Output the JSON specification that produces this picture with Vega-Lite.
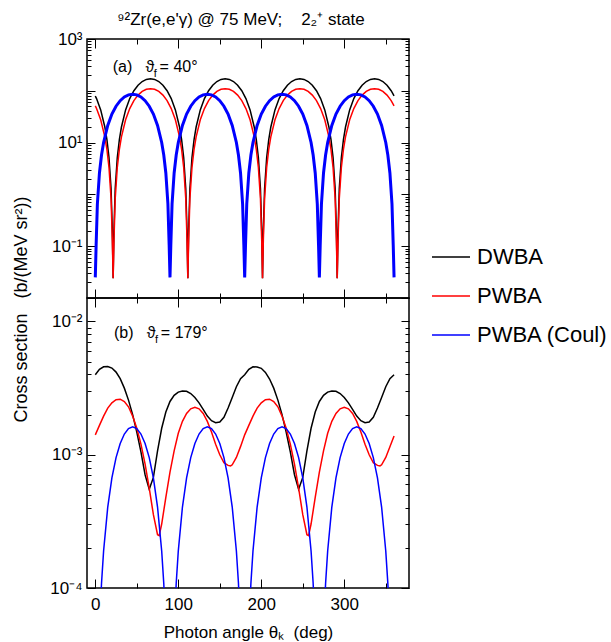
{
  "$schema": "https://vega.github.io/schema/vega-lite/v6.json",
  "padding": {"left": 11, "top": 10, "right": 0, "bottom": 0},
  "bounds": "flush",
  "spacing": 0,
  "config": {
    "font": "Liberation Sans",
    "view": {"stroke": "black", "strokeWidth": 1.5},
    "axis": {"domain": false, "grid": false, "tickColor": "black", "tickWidth": 1, "labelColor": "black", "labelFont": "Liberation Sans", "labelFontSize": 17, "titleFont": "Liberation Sans", "titleFontWeight": "normal", "titleColor": "black", "labelOverlap": false, "labelFlush": false, "labelBound": false},
    "title": {"font": "Liberation Sans", "fontWeight": "normal", "color": "black"}
  },
  "datasets": {
    "a": [
      {"x":0,"DWBA":79.5,"PWBA":51.2},{"x":1.5,"DWBA":70.65,"PWBA":45.45},{"x":6.5,"DWBA":42.75,"PWBA":27.5},{"x":11.5,"DWBA":20.0,"PWBA":12.87},{"x":14,"DWBA":11.45,"PWBA":7.37},{"x":16.5,"DWBA":5.16,"PWBA":3.32},{"x":19,"DWBA":1.30,"PWBA":0.836},{"x":20.5,"DWBA":0.208,"PWBA":0.134},{"x":21.5,"DWBA":0.024,"PWBA":0.024},{"x":22.5,"DWBA":0.208,"PWBA":0.134},{"x":24,"DWBA":1.30,"PWBA":0.836},{"x":26.5,"DWBA":5.16,"PWBA":3.32},{"x":29,"DWBA":11.45,"PWBA":7.37},{"x":31.5,"DWBA":20.0,"PWBA":12.87},{"x":36.5,"DWBA":42.75,"PWBA":27.5},{"x":41.5,"DWBA":70.65,"PWBA":45.45},{"x":46.5,"DWBA":100.3,"PWBA":64.55},{"x":51.5,"DWBA":128.3,"PWBA":82.5},{"x":56.5,"DWBA":151.0,"PWBA":97.13},{"x":61.5,"DWBA":165.8,"PWBA":106.7},{"x":66.5,"DWBA":171,"PWBA":110},{"x":71.5,"DWBA":165.8,"PWBA":106.7},{"x":76.5,"DWBA":151.0,"PWBA":97.13},{"x":81.5,"DWBA":128.3,"PWBA":82.5},{"x":86.5,"DWBA":100.3,"PWBA":64.55},
      {"x":91.5,"DWBA":70.65,"PWBA":45.45},{"x":96.5,"DWBA":42.75,"PWBA":27.5},{"x":101.5,"DWBA":20.0,"PWBA":12.87},{"x":104,"DWBA":11.45,"PWBA":7.37},{"x":106.5,"DWBA":5.16,"PWBA":3.32},{"x":109,"DWBA":1.30,"PWBA":0.836},{"x":110.5,"DWBA":0.208,"PWBA":0.134},{"x":111.5,"DWBA":0.024,"PWBA":0.024},{"x":112.5,"DWBA":0.208,"PWBA":0.134},{"x":114,"DWBA":1.30,"PWBA":0.836},{"x":116.5,"DWBA":5.16,"PWBA":3.32},{"x":119,"DWBA":11.45,"PWBA":7.37},{"x":121.5,"DWBA":20.0,"PWBA":12.87},{"x":126.5,"DWBA":42.75,"PWBA":27.5},{"x":131.5,"DWBA":70.65,"PWBA":45.45},{"x":136.5,"DWBA":100.3,"PWBA":64.55},{"x":141.5,"DWBA":128.3,"PWBA":82.5},{"x":146.5,"DWBA":151.0,"PWBA":97.13},{"x":151.5,"DWBA":165.8,"PWBA":106.7},{"x":156.5,"DWBA":171,"PWBA":110},{"x":161.5,"DWBA":165.8,"PWBA":106.7},{"x":166.5,"DWBA":151.0,"PWBA":97.13},{"x":171.5,"DWBA":128.3,"PWBA":82.5},{"x":176.5,"DWBA":100.3,"PWBA":64.55},
      {"x":181.5,"DWBA":70.65,"PWBA":45.45},{"x":186.5,"DWBA":42.75,"PWBA":27.5},{"x":191.5,"DWBA":20.0,"PWBA":12.87},{"x":194,"DWBA":11.45,"PWBA":7.37},{"x":196.5,"DWBA":5.16,"PWBA":3.32},{"x":199,"DWBA":1.30,"PWBA":0.836},{"x":200.5,"DWBA":0.208,"PWBA":0.134},{"x":201.5,"DWBA":0.024,"PWBA":0.024},{"x":202.5,"DWBA":0.208,"PWBA":0.134},{"x":204,"DWBA":1.30,"PWBA":0.836},{"x":206.5,"DWBA":5.16,"PWBA":3.32},{"x":209,"DWBA":11.45,"PWBA":7.37},{"x":211.5,"DWBA":20.0,"PWBA":12.87},{"x":216.5,"DWBA":42.75,"PWBA":27.5},{"x":221.5,"DWBA":70.65,"PWBA":45.45},{"x":226.5,"DWBA":100.3,"PWBA":64.55},{"x":231.5,"DWBA":128.3,"PWBA":82.5},{"x":236.5,"DWBA":151.0,"PWBA":97.13},{"x":241.5,"DWBA":165.8,"PWBA":106.7},{"x":246.5,"DWBA":171,"PWBA":110},{"x":251.5,"DWBA":165.8,"PWBA":106.7},{"x":256.5,"DWBA":151.0,"PWBA":97.13},{"x":261.5,"DWBA":128.3,"PWBA":82.5},{"x":266.5,"DWBA":100.3,"PWBA":64.55},
      {"x":271.5,"DWBA":70.65,"PWBA":45.45},{"x":276.5,"DWBA":42.75,"PWBA":27.5},{"x":281.5,"DWBA":20.0,"PWBA":12.87},{"x":284,"DWBA":11.45,"PWBA":7.37},{"x":286.5,"DWBA":5.16,"PWBA":3.32},{"x":289,"DWBA":1.30,"PWBA":0.836},{"x":290.5,"DWBA":0.208,"PWBA":0.134},{"x":291.5,"DWBA":0.024,"PWBA":0.024},{"x":292.5,"DWBA":0.208,"PWBA":0.134},{"x":294,"DWBA":1.30,"PWBA":0.836},{"x":296.5,"DWBA":5.16,"PWBA":3.32},{"x":299,"DWBA":11.45,"PWBA":7.37},{"x":301.5,"DWBA":20.0,"PWBA":12.87},{"x":306.5,"DWBA":42.75,"PWBA":27.5},{"x":311.5,"DWBA":70.65,"PWBA":45.45},{"x":316.5,"DWBA":100.3,"PWBA":64.55},{"x":321.5,"DWBA":128.3,"PWBA":82.5},{"x":326.5,"DWBA":151.0,"PWBA":97.13},{"x":331.5,"DWBA":165.8,"PWBA":106.7},{"x":336.5,"DWBA":171,"PWBA":110},{"x":341.5,"DWBA":165.8,"PWBA":106.7},{"x":346.5,"DWBA":151.0,"PWBA":97.13},{"x":351.5,"DWBA":128.3,"PWBA":82.5},{"x":356.5,"DWBA":100.3,"PWBA":64.55},{"x":360,"DWBA":79.5,"PWBA":51.2},
      {"x":0,"PWBA (Coul)":0.025},{"x":1,"PWBA (Coul)":0.105},{"x":2.5,"PWBA (Coul)":0.653},{"x":5,"PWBA (Coul)":2.59},{"x":7.5,"PWBA (Coul)":5.76},{"x":10,"PWBA (Coul)":10.06},{"x":15,"PWBA (Coul)":21.5},{"x":20,"PWBA (Coul)":35.53},{"x":25,"PWBA (Coul)":50.47},{"x":30,"PWBA (Coul)":64.5},{"x":35,"PWBA (Coul)":75.94},{"x":40,"PWBA (Coul)":83.41},{"x":45,"PWBA (Coul)":86},{"x":50,"PWBA (Coul)":83.41},{"x":55,"PWBA (Coul)":75.94},{"x":60,"PWBA (Coul)":64.5},{"x":65,"PWBA (Coul)":50.47},{"x":70,"PWBA (Coul)":35.53},{"x":75,"PWBA (Coul)":21.5},{"x":80,"PWBA (Coul)":10.06},{"x":82.5,"PWBA (Coul)":5.76},{"x":85,"PWBA (Coul)":2.59},{"x":87.5,"PWBA (Coul)":0.653},{"x":89,"PWBA (Coul)":0.105},
      {"x":90,"PWBA (Coul)":0.025},{"x":91,"PWBA (Coul)":0.105},{"x":92.5,"PWBA (Coul)":0.653},{"x":95,"PWBA (Coul)":2.59},{"x":97.5,"PWBA (Coul)":5.76},{"x":100,"PWBA (Coul)":10.06},{"x":105,"PWBA (Coul)":21.5},{"x":110,"PWBA (Coul)":35.53},{"x":115,"PWBA (Coul)":50.47},{"x":120,"PWBA (Coul)":64.5},{"x":125,"PWBA (Coul)":75.94},{"x":130,"PWBA (Coul)":83.41},{"x":135,"PWBA (Coul)":86},{"x":140,"PWBA (Coul)":83.41},{"x":145,"PWBA (Coul)":75.94},{"x":150,"PWBA (Coul)":64.5},{"x":155,"PWBA (Coul)":50.47},{"x":160,"PWBA (Coul)":35.53},{"x":165,"PWBA (Coul)":21.5},{"x":170,"PWBA (Coul)":10.06},{"x":172.5,"PWBA (Coul)":5.76},{"x":175,"PWBA (Coul)":2.59},{"x":177.5,"PWBA (Coul)":0.653},{"x":179,"PWBA (Coul)":0.105},
      {"x":180,"PWBA (Coul)":0.025},{"x":181,"PWBA (Coul)":0.105},{"x":182.5,"PWBA (Coul)":0.653},{"x":185,"PWBA (Coul)":2.59},{"x":187.5,"PWBA (Coul)":5.76},{"x":190,"PWBA (Coul)":10.06},{"x":195,"PWBA (Coul)":21.5},{"x":200,"PWBA (Coul)":35.53},{"x":205,"PWBA (Coul)":50.47},{"x":210,"PWBA (Coul)":64.5},{"x":215,"PWBA (Coul)":75.94},{"x":220,"PWBA (Coul)":83.41},{"x":225,"PWBA (Coul)":86},{"x":230,"PWBA (Coul)":83.41},{"x":235,"PWBA (Coul)":75.94},{"x":240,"PWBA (Coul)":64.5},{"x":245,"PWBA (Coul)":50.47},{"x":250,"PWBA (Coul)":35.53},{"x":255,"PWBA (Coul)":21.5},{"x":260,"PWBA (Coul)":10.06},{"x":262.5,"PWBA (Coul)":5.76},{"x":265,"PWBA (Coul)":2.59},{"x":267.5,"PWBA (Coul)":0.653},{"x":269,"PWBA (Coul)":0.105},
      {"x":270,"PWBA (Coul)":0.025},{"x":271,"PWBA (Coul)":0.105},{"x":272.5,"PWBA (Coul)":0.653},{"x":275,"PWBA (Coul)":2.59},{"x":277.5,"PWBA (Coul)":5.76},{"x":280,"PWBA (Coul)":10.06},{"x":285,"PWBA (Coul)":21.5},{"x":290,"PWBA (Coul)":35.53},{"x":295,"PWBA (Coul)":50.47},{"x":300,"PWBA (Coul)":64.5},{"x":305,"PWBA (Coul)":75.94},{"x":310,"PWBA (Coul)":83.41},{"x":315,"PWBA (Coul)":86},{"x":320,"PWBA (Coul)":83.41},{"x":325,"PWBA (Coul)":75.94},{"x":330,"PWBA (Coul)":64.5},{"x":335,"PWBA (Coul)":50.47},{"x":340,"PWBA (Coul)":35.53},{"x":345,"PWBA (Coul)":21.5},{"x":350,"PWBA (Coul)":10.06},{"x":352.5,"PWBA (Coul)":5.76},{"x":355,"PWBA (Coul)":2.59},{"x":357.5,"PWBA (Coul)":0.653},{"x":359,"PWBA (Coul)":0.105},{"x":360,"PWBA (Coul)":0.025}
    ],
    "b": [
      {"x":0,"DWBA":0.00398,"PWBA":0.00141},{"x":2.5,"PWBA (Coul)":0.0000123},{"x":5,"DWBA":0.00437,"PWBA":0.00166,"PWBA (Coul)":0.00004885},{"x":7.5,"PWBA (Coul)":0.0001085},{"x":10,"DWBA":0.00457,"PWBA":0.00195,"PWBA (Coul)":0.0001895},{"x":15,"DWBA":0.00459,"PWBA":0.00224,"PWBA (Coul)":0.000405},{"x":20,"DWBA":0.00447,"PWBA":0.00245,"PWBA (Coul)":0.0006693},{"x":25,"DWBA":0.00417,"PWBA":0.00259,"PWBA (Coul)":0.0009507},{"x":30,"DWBA":0.00372,"PWBA":0.00261,"PWBA (Coul)":0.001215},{"x":35,"DWBA":0.00316,"PWBA":0.00251,"PWBA (Coul)":0.00143},{"x":40,"DWBA":0.00257,"PWBA":0.00229,"PWBA (Coul)":0.001571},{"x":45,"DWBA":0.0020,"PWBA":0.00195,"PWBA (Coul)":0.00162},{"x":50,"DWBA":0.00148,"PWBA":0.00158,"PWBA (Coul)":0.001571},{"x":55,"DWBA":0.00105,"PWBA":0.0012,"PWBA (Coul)":0.00143},{"x":60,"DWBA":0.000708,"PWBA":0.000851,"PWBA (Coul)":0.001215},{"x":65,"DWBA":0.00055,"PWBA":0.000562,"PWBA (Coul)":0.0009507},{"x":70,"DWBA":0.000676,"PWBA":0.000355,"PWBA (Coul)":0.0006693},{"x":75,"DWBA":0.00107,"PWBA":0.000251,"PWBA (Coul)":0.000405},{"x":77,"PWBA":0.000247},{"x":80,"DWBA":0.00158,"PWBA":0.000302,"PWBA (Coul)":0.0001895},{"x":82.5,"PWBA (Coul)":0.0001085},{"x":85,"DWBA":0.00209,"PWBA":0.000479,"PWBA (Coul)":0.00004885},{"x":87.5,"PWBA (Coul)":0.0000123},{"x":90,"DWBA":0.00251,"PWBA":0.000741},{"x":92.5,"PWBA (Coul)":0.0000123},{"x":95,"DWBA":0.00279,"PWBA":0.00107,"PWBA (Coul)":0.00004885},{"x":97.5,"PWBA (Coul)":0.0001085},{"x":100,"DWBA":0.00295,"PWBA":0.00145,"PWBA (Coul)":0.0001895},{"x":105,"DWBA":0.00301,"PWBA":0.00178,"PWBA (Coul)":0.000405},{"x":110,"DWBA":0.00299,"PWBA":0.00204,"PWBA (Coul)":0.0006693},{"x":115,"DWBA":0.00288,"PWBA":0.00221,"PWBA (Coul)":0.0009507},{"x":120,"DWBA":0.00269,"PWBA":0.00227,"PWBA (Coul)":0.001215},{"x":125,"DWBA":0.00245,"PWBA":0.00221,"PWBA (Coul)":0.00143},{"x":130,"DWBA":0.00219,"PWBA":0.00204,"PWBA (Coul)":0.001571},{"x":135,"DWBA":0.00195,"PWBA":0.00178,"PWBA (Coul)":0.00162},{"x":140,"DWBA":0.0018,"PWBA":0.00148,"PWBA (Coul)":0.001571},{"x":145,"DWBA":0.00174,"PWBA":0.0012,"PWBA (Coul)":0.00143},{"x":150,"DWBA":0.00176,"PWBA":0.001,"PWBA (Coul)":0.001215},{"x":155,"DWBA":0.00191,"PWBA":0.000871,"PWBA (Coul)":0.0009507},{"x":160,"DWBA":0.00224,"PWBA":0.000832,"PWBA (Coul)":0.0006693},{"x":163,"PWBA":0.000824},{"x":165,"DWBA":0.00269,"PWBA":0.000841,"PWBA (Coul)":0.000405},{"x":170,"DWBA":0.00324,"PWBA":0.000955,"PWBA (Coul)":0.0001895},{"x":172.5,"PWBA (Coul)":0.0001085},{"x":175,"DWBA":0.00372,"PWBA":0.00115,"PWBA (Coul)":0.00004885},{"x":177.5,"PWBA (Coul)":0.0000123},
      {"x":180,"DWBA":0.00398,"PWBA":0.00141},{"x":182.5,"PWBA (Coul)":0.0000123},{"x":185,"DWBA":0.00437,"PWBA":0.00166,"PWBA (Coul)":0.00004885},{"x":187.5,"PWBA (Coul)":0.0001085},{"x":190,"DWBA":0.00457,"PWBA":0.00195,"PWBA (Coul)":0.0001895},{"x":195,"DWBA":0.00455,"PWBA":0.00224,"PWBA (Coul)":0.000405},{"x":200,"DWBA":0.00445,"PWBA":0.00245,"PWBA (Coul)":0.0006693},{"x":205,"DWBA":0.00415,"PWBA":0.00259,"PWBA (Coul)":0.0009507},{"x":210,"DWBA":0.0037,"PWBA":0.00261,"PWBA (Coul)":0.001215},{"x":215,"DWBA":0.00316,"PWBA":0.00251,"PWBA (Coul)":0.00143},{"x":220,"DWBA":0.00257,"PWBA":0.00229,"PWBA (Coul)":0.001571},{"x":225,"DWBA":0.0020,"PWBA":0.00195,"PWBA (Coul)":0.00162},{"x":230,"DWBA":0.00148,"PWBA":0.00158,"PWBA (Coul)":0.001571},{"x":235,"DWBA":0.00105,"PWBA":0.0012,"PWBA (Coul)":0.00143},{"x":240,"DWBA":0.000708,"PWBA":0.000851,"PWBA (Coul)":0.001215},{"x":245,"DWBA":0.00055,"PWBA":0.000562,"PWBA (Coul)":0.0009507},{"x":250,"DWBA":0.000676,"PWBA":0.000355,"PWBA (Coul)":0.0006693},{"x":255,"DWBA":0.00107,"PWBA":0.000251,"PWBA (Coul)":0.000405},{"x":257,"PWBA":0.000247},{"x":260,"DWBA":0.00158,"PWBA":0.000302,"PWBA (Coul)":0.0001895},{"x":262.5,"PWBA (Coul)":0.0001085},{"x":265,"DWBA":0.00209,"PWBA":0.000479,"PWBA (Coul)":0.00004885},{"x":267.5,"PWBA (Coul)":0.0000123},{"x":270,"DWBA":0.00251,"PWBA":0.000741},{"x":272.5,"PWBA (Coul)":0.0000123},{"x":275,"DWBA":0.00279,"PWBA":0.00107,"PWBA (Coul)":0.00004885},{"x":277.5,"PWBA (Coul)":0.0001085},{"x":280,"DWBA":0.00295,"PWBA":0.00145,"PWBA (Coul)":0.0001895},{"x":285,"DWBA":0.00301,"PWBA":0.00178,"PWBA (Coul)":0.000405},{"x":290,"DWBA":0.00299,"PWBA":0.00204,"PWBA (Coul)":0.0006693},{"x":295,"DWBA":0.00288,"PWBA":0.00221,"PWBA (Coul)":0.0009507},{"x":300,"DWBA":0.00269,"PWBA":0.00227,"PWBA (Coul)":0.001215},{"x":305,"DWBA":0.00245,"PWBA":0.00221,"PWBA (Coul)":0.00143},{"x":310,"DWBA":0.00219,"PWBA":0.00204,"PWBA (Coul)":0.001571},{"x":315,"DWBA":0.00195,"PWBA":0.00178,"PWBA (Coul)":0.00162},{"x":320,"DWBA":0.0018,"PWBA":0.00148,"PWBA (Coul)":0.001571},{"x":325,"DWBA":0.00174,"PWBA":0.0012,"PWBA (Coul)":0.00143},{"x":330,"DWBA":0.00176,"PWBA":0.001,"PWBA (Coul)":0.001215},{"x":335,"DWBA":0.00191,"PWBA":0.000871,"PWBA (Coul)":0.0009507},{"x":340,"DWBA":0.00224,"PWBA":0.000832,"PWBA (Coul)":0.0006693},{"x":343,"PWBA":0.000824},{"x":345,"DWBA":0.00269,"PWBA":0.000841,"PWBA (Coul)":0.000405},{"x":350,"DWBA":0.00324,"PWBA":0.000955,"PWBA (Coul)":0.0001895},{"x":352.5,"PWBA (Coul)":0.0001085},{"x":355,"DWBA":0.00372,"PWBA":0.00115,"PWBA (Coul)":0.00004885},{"x":357.5,"PWBA (Coul)":0.0000123},{"x":360,"DWBA":0.00398,"PWBA":0.00138}
    ]
  },
  "resolve": {"scale": {"color": "independent"}, "legend": {"color": "independent"}},
  "vconcat": [
    {
      "width": 322,
      "height": 259,
      "title": {"text": "⁹²Zr(e,e'γ) @ 75 MeV;\u00a0\u00a0\u00a0 2₂⁺ state", "fontSize": 17, "anchor": "middle", "baseline": "alphabetic", "offset": -12, "dx": -7},
      "resolve": {"axis": {"x": "independent", "y": "independent"}},
      "layer": [
        {
          "data": {"name": "a"},
          "transform": [{"fold": ["DWBA", "PWBA", "PWBA (Coul)"], "as": ["model", "v"]}, {"filter": "isValid(datum.v)"}],
          "mark": {"type": "line", "clip": true},
          "encoding": {
            "x": {"field": "x", "type": "quantitative", "scale": {"domain": [-10, 378], "nice": false, "zero": false},
                  "axis": {"orient": "bottom", "values": [0,50,100,150,200,250,300,350], "labels": false, "title": null,
                           "tickSize": {"condition": {"test": "datum.value % 100 === 0", "value": -9}, "value": -5}}},
            "y": {"field": "v", "type": "quantitative", "scale": {"type": "log", "domain": [0.01, 1000], "nice": false},
                  "axis": {"orient": "left",
                           "values": [0.01,0.02,0.03,0.04,0.05,0.06,0.07,0.08,0.09,0.1,0.2,0.3,0.4,0.5,0.6,0.7,0.8,0.9,1,2,3,4,5,6,7,8,9,10,20,30,40,50,60,70,80,90,100,200,300,400,500,600,700,800,900,1000],
                           "labelExpr": "datum.value === 1000 ? '10³' : datum.value === 10 ? '10¹' : datum.value === 0.1 ? '10⁻¹' : ''",
                           "tickSize": {"condition": {"test": "datum.value === 0.01 || datum.value === 0.1 || datum.value === 1 || datum.value === 10 || datum.value === 100 || datum.value === 1000", "value": -8}, "value": -4},
                           "labelPadding": 13,
                           "title": "Cross section\u00a0\u00a0 (b/(MeV sr²))", "titleFontSize": 18, "titleX": -66, "titleY": 270, "titleAngle": 270, "titleAlign": "center", "titleBaseline": "middle"}},
            "color": {"field": "model", "type": "nominal",
                      "scale": {"domain": ["DWBA", "PWBA", "PWBA (Coul)"], "range": ["#000000", "#ff0000", "#0000ff"]},
                      "legend": {"orient": "none", "legendX": 344, "legendY": 198, "title": null, "symbolType": "stroke", "symbolSize": 1444, "symbolStrokeWidth": 1.5, "labelFontSize": 22, "labelOffset": 6, "rowPadding": 8, "labelFont": "Liberation Sans", "labelColor": "black"}},
            "size": {"condition": {"test": "datum.model === 'PWBA (Coul)'", "value": 3}, "value": 1.5}
          }
        },
        {
          "data": {"name": "a"},
          "transform": [{"fold": ["DWBA", "PWBA", "PWBA (Coul)"], "as": ["model", "v"]}, {"filter": "isValid(datum.v)"}],
          "mark": {"type": "line", "strokeOpacity": 0},
          "encoding": {
            "x": {"field": "x", "type": "quantitative",
                  "axis": {"orient": "top", "values": [0,50,100,150,200,250,300,350], "labels": false, "title": null,
                           "tickSize": {"condition": {"test": "datum.value % 100 === 0", "value": -9}, "value": -5}}},
            "y": {"field": "v", "type": "quantitative",
                  "axis": {"orient": "right",
                           "values": [0.01,0.02,0.03,0.04,0.05,0.06,0.07,0.08,0.09,0.1,0.2,0.3,0.4,0.5,0.6,0.7,0.8,0.9,1,2,3,4,5,6,7,8,9,10,20,30,40,50,60,70,80,90,100,200,300,400,500,600,700,800,900,1000],
                           "labels": false, "title": null,
                           "tickSize": {"condition": {"test": "datum.value === 0.01 || datum.value === 0.1 || datum.value === 1 || datum.value === 10 || datum.value === 100 || datum.value === 1000", "value": -8}, "value": -4}}}
          }
        },
        {
          "data": {"values": [{}]},
          "mark": {"type": "text", "text": "(a)\u00a0\u00a0 ϑ", "align": "left", "baseline": "alphabetic", "fontSize": 16, "font": "Liberation Sans"},
          "encoding": {"x": {"datum": 21, "type": "quantitative", "axis": null}, "y": {"datum": 231, "type": "quantitative", "axis": null}}
        },
        {
          "data": {"values": [{}]},
          "mark": {"type": "text", "text": "f", "align": "left", "baseline": "alphabetic", "fontSize": 11, "font": "Liberation Sans"},
          "encoding": {"x": {"datum": 70.5, "type": "quantitative", "axis": null}, "y": {"datum": 184, "type": "quantitative", "axis": null}}
        },
        {
          "data": {"values": [{}]},
          "mark": {"type": "text", "text": "= 40°", "align": "left", "baseline": "alphabetic", "fontSize": 16, "font": "Liberation Sans"},
          "encoding": {"x": {"datum": 77.5, "type": "quantitative", "axis": null}, "y": {"datum": 231, "type": "quantitative", "axis": null}}
        }
      ]
    },
    {
      "width": 322,
      "height": 290,
      "resolve": {"axis": {"x": "independent", "y": "independent"}},
      "layer": [
        {
          "data": {"name": "b"},
          "transform": [{"fold": ["DWBA", "PWBA", "PWBA (Coul)"], "as": ["model", "v"]}, {"filter": "isValid(datum.v)"}],
          "mark": {"type": "line", "clip": true, "strokeWidth": 1.5},
          "encoding": {
            "x": {"field": "x", "type": "quantitative", "scale": {"domain": [-10, 378], "nice": false, "zero": false},
                  "axis": {"orient": "bottom", "values": [0,50,100,150,200,250,300,350],
                           "labelExpr": "datum.value % 100 === 0 ? datum.label : ''",
                           "labelPadding": 17,
                           "tickSize": {"condition": {"test": "datum.value % 100 === 0", "value": -9}, "value": -5},
                           "title": "Photon angle θₖ\u00a0 (deg)", "titleFontSize": 17, "titlePadding": 8}},
            "y": {"field": "v", "type": "quantitative", "scale": {"type": "log", "domain": [0.0001, 0.015], "nice": false},
                  "axis": {"orient": "left",
                           "values": [0.0001,0.0002,0.0003,0.0004,0.0005,0.0006,0.0007,0.0008,0.0009,0.001,0.002,0.003,0.004,0.005,0.006,0.007,0.008,0.009,0.01],
                           "labelExpr": "datum.value === 0.01 ? '10⁻²' : datum.value === 0.001 ? '10⁻³' : datum.value === 0.0001 ? '10⁻⁴' : ''",
                           "tickSize": {"condition": {"test": "datum.value === 0.0001 || datum.value === 0.001 || datum.value === 0.01", "value": -8}, "value": -4},
                           "labelPadding": 13, "title": null}},
            "color": {"field": "model", "type": "nominal",
                      "scale": {"domain": ["DWBA", "PWBA", "PWBA (Coul)"], "range": ["#000000", "#ff0000", "#0000ff"]},
                      "legend": null}
          }
        },
        {
          "data": {"name": "b"},
          "transform": [{"fold": ["DWBA", "PWBA", "PWBA (Coul)"], "as": ["model", "v"]}, {"filter": "isValid(datum.v)"}],
          "mark": {"type": "line", "strokeOpacity": 0},
          "encoding": {
            "x": {"field": "x", "type": "quantitative",
                  "axis": {"orient": "top", "values": [0,50,100,150,200,250,300,350], "labels": false, "title": null,
                           "tickSize": {"condition": {"test": "datum.value % 100 === 0", "value": -9}, "value": -5}}},
            "y": {"field": "v", "type": "quantitative",
                  "axis": {"orient": "right",
                           "values": [0.0001,0.0002,0.0003,0.0004,0.0005,0.0006,0.0007,0.0008,0.0009,0.001,0.002,0.003,0.004,0.005,0.006,0.007,0.008,0.009,0.01],
                           "labels": false, "title": null,
                           "tickSize": {"condition": {"test": "datum.value === 0.0001 || datum.value === 0.001 || datum.value === 0.01", "value": -8}, "value": -4}}}
          }
        },
        {
          "data": {"values": [{}]},
          "mark": {"type": "text", "text": "(b)\u00a0\u00a0 ϑ", "align": "left", "baseline": "alphabetic", "fontSize": 16, "font": "Liberation Sans"},
          "encoding": {"x": {"datum": 22.5, "type": "quantitative", "axis": null}, "y": {"datum": 0.00746, "type": "quantitative", "axis": null}}
        },
        {
          "data": {"values": [{}]},
          "mark": {"type": "text", "text": "f", "align": "left", "baseline": "alphabetic", "fontSize": 11, "font": "Liberation Sans"},
          "encoding": {"x": {"datum": 72, "type": "quantitative", "axis": null}, "y": {"datum": 0.00685, "type": "quantitative", "axis": null}}
        },
        {
          "data": {"values": [{}]},
          "mark": {"type": "text", "text": "= 179°", "align": "left", "baseline": "alphabetic", "fontSize": 16, "font": "Liberation Sans"},
          "encoding": {"x": {"datum": 79, "type": "quantitative", "axis": null}, "y": {"datum": 0.00746, "type": "quantitative", "axis": null}}
        }
      ]
    }
  ]
}
